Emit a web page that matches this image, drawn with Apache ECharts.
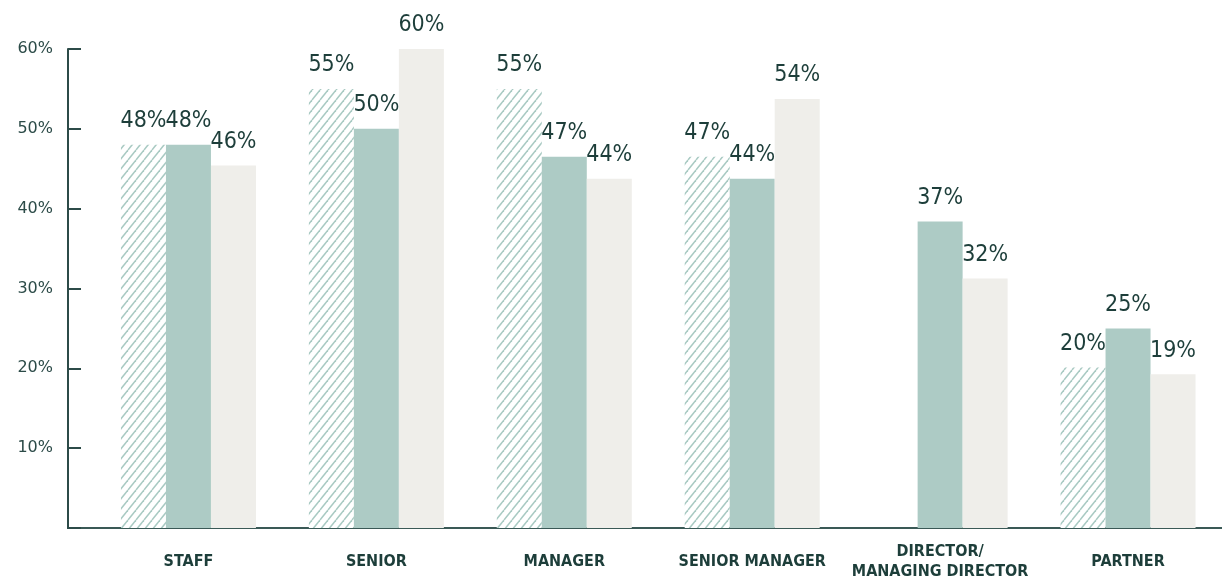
<!DOCTYPE html>
<html>
<head>
<meta charset="utf-8">
<script src="https://cdn.jsdelivr.net/npm/echarts@6/dist/echarts.min.js"></script>
<style>
  html, body { margin: 0; padding: 0; background: #fff; }
  #chart { width: 1222px; height: 583px; }
</style>
</head>
<body>
<div id="chart"></div>
<script>
// categories and values
var categories = ['STAFF', 'SENIOR', 'MANAGER', 'SENIOR MANAGER', 'DIRECTOR/\nMANAGING DIRECTOR', 'PARTNER'];
var hatchedValues = [48, 55, 55, 46.5, null, 20.1];
var tealValues = [48, 50, 46.5, 43.75, 38.4, 25];
var lightValues = [45.4, 60, 43.75, 53.75, 31.25, 19.25];
var hatchedLabels = ['48%', '55%', '55%', '47%', '', '20%'];
var tealLabels = ['48%', '50%', '47%', '44%', '37%', '25%'];
var lightLabels = ['46%', '60%', '44%', '54%', '32%', '19%'];
var yTicks = [0, 10, 20, 30, 40, 50, 60];

var DARK = '#1d3e3a';
var NARROW = '"DejaVu Sans Condensed", "Liberation Sans Narrow", Roboto, sans-serif';

// diagonal hatch pattern
function make_hatch() {
  var w = 8, h = 10;
  var c = document.createElement('canvas');
  c.width = w;
  c.height = h;
  var ctx = c.getContext('2d');
  ctx.fillStyle = '#ffffff';
  ctx.fillRect(0, 0, w, h);
  ctx.strokeStyle = '#a9cac3';
  ctx.lineWidth = 1.5;
  for (var k = -1; k <= 1; k++) {
    ctx.beginPath();
    ctx.moveTo(k * w, h);
    ctx.lineTo(k * w + w, 0);
    ctx.stroke();
  }
  return c;
}

function value_label(labels) {
  return {
    show: true,
    position: 'top',
    distance: 12,
    fontFamily: NARROW,
    fontSize: 23,
    color: DARK,
    formatter: function(p) {
      return labels[p.dataIndex];
    }
  };
}

var myChart = echarts.init(document.getElementById('chart'));
var option = {
  backgroundColor: '#fff',
  animation: false,
  grid: { left: 94.5, right: 0, top: 49, bottom: 55 },
  xAxis: {
    type: 'category',
    data: categories,
    axisLine: { lineStyle: { color: '#3a5956', width: 2 } },
    axisTick: { show: false },
    axisLabel: {
      interval: 0,
      margin: 34,
      verticalAlign: 'middle',
      lineHeight: 20,
      fontFamily: NARROW,
      fontWeight: 'bold',
      fontSize: 16,
      color: DARK
    }
  },
  yAxis: {
    type: 'value',
    min: yTicks[0],
    max: yTicks[yTicks.length - 1],
    interval: 10,
    offset: 26.5,
    splitLine: { show: false },
    axisLine: { show: true, lineStyle: { color: '#2c4b48', width: 2 } },
    axisTick: { show: true, inside: true, length: 13, lineStyle: { color: '#2c4b48', width: 2 } },
    axisLabel: {
      margin: 15,
      fontFamily: '"DejaVu Sans", sans-serif',
      fontSize: 16,
      color: '#2c4b48',
      formatter: function(v) {
        return v === 0 ? '' : v + '%';
      }
    }
  },
  graphic: [{
    type: 'line',
    shape: { x1: 67, y1: 528, x2: 96, y2: 528 },
    style: { stroke: '#3a5956', lineWidth: 2 }
  }],
  series: [
    {
      type: 'bar',
      barWidth: 45,
      barGap: '0%',
      data: hatchedValues,
      itemStyle: { color: { image: make_hatch(), repeat: 'repeat' } },
      label: value_label(hatchedLabels)
    },
    {
      type: 'bar',
      barWidth: 45,
      barGap: '0%',
      data: tealValues,
      itemStyle: { color: '#adcbc5' },
      label: value_label(tealLabels)
    },
    {
      type: 'bar',
      barWidth: 45,
      barGap: '0%',
      data: lightValues,
      itemStyle: { color: '#efeeea' },
      label: value_label(lightLabels)
    }
  ]
};
myChart.setOption(option);
</script>
</body>
</html>
